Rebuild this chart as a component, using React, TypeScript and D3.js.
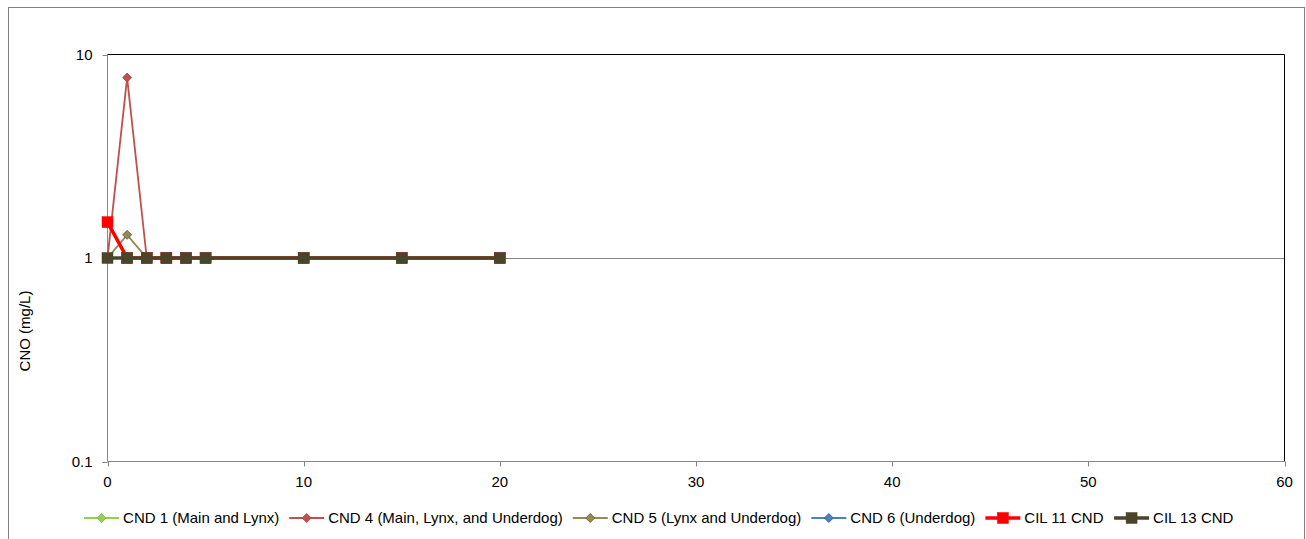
import React, { useMemo } from "react";
import * as d3 from "d3";

const xValues = [0, 1, 2, 3, 4, 5, 10, 15, 20];
const seriesNames = [
  "CND 1 (Main and Lynx)",
  "CND 4 (Main, Lynx, and Underdog)",
  "CND 5 (Lynx and Underdog)",
  "CND 6 (Underdog)",
  "CIL 11 CND",
  "CIL 13 CND",
];
const cnd1 = [1, 1, 1, 1, 1, 1, 1, 1, 1];
const cnd4 = [1, 7.7, 1, 1, 1, 1, 1, 1, 1];
const cnd5 = [1, 1.3, 1, 1, 1, 1, 1, 1, 1];
const cnd6 = [1, 1, 1, 1, 1, 1, 1, 1, 1];
const cil11 = [1.5, 1, 1, 1, 1, 1, 1, 1, 1];
const cil13 = [1, 1, 1, 1, 1, 1, 1, 1, 1];
const xTicks = [0, 10, 20, 30, 40, 50, 60];
const yTicks = [0.1, 1, 10];
const yTickLabels = ["0.1", "1", "10"];
const yTitle = "CNO (mg/L)";

const styles = [
  { color: "#92D050", stroke: "#7FB640", marker: "diamond", width: 1.8 },
  { color: "#C0504D", stroke: "#A0403D", marker: "diamond", width: 1.8 },
  { color: "#948A54", stroke: "#5E5730", marker: "diamond", width: 1.8 },
  { color: "#4F81BD", stroke: "#2F5597", marker: "diamond", width: 1.8 },
  { color: "#FF0000", stroke: "#FF0000", marker: "square", width: 3.5 },
  { color: "#4A452A", stroke: "#4A452A", marker: "square", width: 3.5 },
];

const FONT = "'Liberation Sans', Arial, sans-serif";

function Marker({ type, x, y, fill, stroke }: any) {
  if (type === "diamond") {
    const r = 4.5;
    return (
      <path
        d={`M${x},${y - r}L${x + r},${y}L${x},${y + r}L${x - r},${y}Z`}
        fill={fill}
        stroke={stroke}
        strokeWidth={0.8}
      />
    );
  }
  const s = 11;
  return <rect x={x - s / 2} y={y - s / 2} width={s} height={s} fill={fill} stroke={stroke} strokeWidth={0.5} />;
}

export default function App() {
  const W = 1306;
  const H = 539;
  const left = 107.5;
  const right = 1284.5;
  const top = 54.5;
  const bottom = 461.5;
  const x = d3.scaleLinear().domain([0, 60]).range([left, right]);
  const y = d3.scaleLog().domain([0.1, 10]).range([bottom, top]);
  const data = [cnd1, cnd4, cnd5, cnd6, cil11, cil13];
  const line = d3
    .line<number>()
    .x((_, i) => x(xValues[i]))
    .y((v) => y(v));

  const fontSize = 15;
  const legend = useMemo(() => {
    const canvas = document.createElement("canvas");
    const ctx = canvas.getContext("2d")!;
    ctx.font = `${fontSize}px ${FONT}`;
    const lineW = 35;
    const gap1 = 4;
    const gap2 = 10;
    const widths = seriesNames.map((n) => ctx.measureText(n).width);
    const total = widths.reduce((a, w) => a + lineW + gap1 + w, 0) + gap2 * (seriesNames.length - 1);
    let cx = 659 - total / 2;
    return seriesNames.map((n, i) => {
      const item = { name: n, x0: cx, tx: cx + lineW + gap1 };
      cx += lineW + gap1 + widths[i] + gap2;
      return item;
    });
  }, []);

  return (
    <svg
      width={W}
      height={H}
      style={{ position: "absolute", left: 0, top: 0, background: "#fff" }}
      fontFamily={FONT}
    >
      <rect x={8.5} y={7.5} width={1296} height={560} fill="#fff" stroke="#7f7f7f" strokeWidth={1} />
      <line x1={left} x2={right} y1={Math.round(y(1)) + 0.5} y2={Math.round(y(1)) + 0.5} stroke="#868686" strokeWidth={1} />
      <line x1={left} x2={right} y1={top} y2={top} stroke="#000" strokeWidth={1} />
      <line x1={right} x2={right} y1={top} y2={bottom} stroke="#000" strokeWidth={1} />
      <line x1={left} x2={left} y1={top} y2={bottom} stroke="#868686" strokeWidth={1} />
      <line x1={left} x2={right} y1={bottom} y2={bottom} stroke="#868686" strokeWidth={1} />
      {yTicks.map((t, i) => (
        <g key={"y" + t}>
          <line x1={left - 5} x2={left} y1={Math.round(y(t)) + 0.5} y2={Math.round(y(t)) + 0.5} stroke="#868686" />
          <text x={left - 15} y={y(t)} dy="0.35em" textAnchor="end" fontSize={fontSize} fill="#000">
            {yTickLabels[i]}
          </text>
        </g>
      ))}
      {xTicks.map((t) => (
        <g key={"x" + t}>
          <line x1={Math.round(x(t)) + 0.5} x2={Math.round(x(t)) + 0.5} y1={bottom} y2={bottom + 5} stroke="#868686" />
          <text x={x(t)} y={bottom + 25} textAnchor="middle" fontSize={fontSize} fill="#000">
            {t}
          </text>
        </g>
      ))}
      <text transform={`translate(30,331) rotate(-90)`} textAnchor="middle" fontSize={fontSize} fill="#000">
        {yTitle}
      </text>
      {data.map((d, si) => (
        <g key={"s" + si}>
          <path d={line(d) || ""} fill="none" stroke={styles[si].color} strokeWidth={styles[si].width} />
          {d.map((v, i) => (
            <Marker
              key={i}
              type={styles[si].marker}
              x={x(xValues[i])}
              y={y(v)}
              fill={styles[si].color}
              stroke={styles[si].stroke}
            />
          ))}
        </g>
      ))}
      {legend.map((l, i) => (
        <g key={"l" + i}>
          <line x1={l.x0} x2={l.x0 + 35} y1={518} y2={518} stroke={styles[i].color} strokeWidth={styles[i].width} />
          <Marker type={styles[i].marker} x={l.x0 + 17.5} y={518} fill={styles[i].color} stroke={styles[i].stroke} />
          <text x={l.tx} y={518} dy="0.35em" fontSize={fontSize} fill="#000">
            {l.name}
          </text>
        </g>
      ))}
    </svg>
  );
}
